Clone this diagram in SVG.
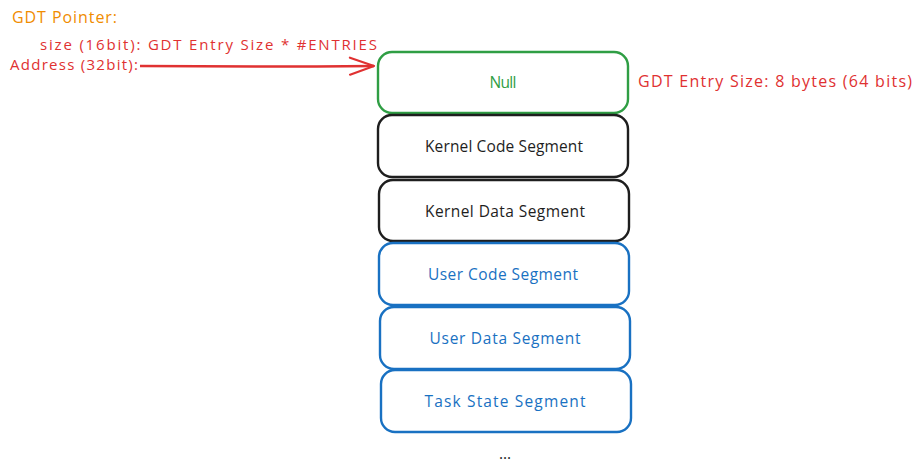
<svg xmlns="http://www.w3.org/2000/svg" width="922" height="474" viewBox="0 0 922 474">
<defs>
<style>
text{font-family:"Open Sans","Liberation Sans",sans-serif;font-size:16px}
.box{fill:#ffffff;stroke-width:2.4}
.lbl{text-anchor:middle;font-size:15.5px}
.g{stroke:#2f9e44}.k{stroke:#1e1e1e}.b{stroke:#1971c2}
.tg{fill:#2f9e44}.tk{fill:#1e1e1e}.tb{fill:#1971c2}
.red{fill:#e03131}.org{fill:#f08c00}
.sm{font-size:15px}
</style>
<marker id="ah" viewBox="0 0 28 20" refX="26" refY="10" markerWidth="28" markerHeight="20" markerUnits="userSpaceOnUse" orient="auto">
<path d="M2 1.5 L26 10 L2 18.5" fill="none" stroke="#e03131" stroke-width="2.2" stroke-linecap="round" stroke-linejoin="round"/>
</marker>
</defs>
<rect width="922" height="474" fill="#ffffff"/>
<g id="labels">
<text x="12" y="23" class="org" textLength="105" lengthAdjust="spacing">GDT Pointer:</text>
<text x="40" y="50" class="red sm" textLength="337" lengthAdjust="spacing">size (16bit): GDT Entry Size * #ENTRIES</text>
<text x="10" y="70" class="red sm" textLength="128" lengthAdjust="spacing">Address (32bit):</text>
<text x="638" y="87" class="red" textLength="274" lengthAdjust="spacing">GDT Entry Size: 8 bytes (64 bits)</text>
<text x="505" y="459" class="lbl tk" font-size="17">...</text>
</g>
<g id="connectors">
<path d="M140 66 Q260 67 374 66" fill="none" stroke="#e03131" stroke-width="2.4" marker-end="url(#ah)"/>
</g>
<g id="null"><rect class="box g" x="378" y="52" width="250" height="61" rx="14"/><text class="lbl tg" x="503" y="88" textLength="27" lengthAdjust="spacing">Null</text></g>
<g id="kcode"><rect class="box k" x="378" y="115" width="250" height="62" rx="14"/><text class="lbl tk" x="504" y="152" textLength="158" lengthAdjust="spacing">Kernel Code Segment</text></g>
<g id="kdata"><rect class="box k" x="379" y="180" width="250" height="61" rx="14"/><text class="lbl tk" x="505" y="217" textLength="160" lengthAdjust="spacing">Kernel Data Segment</text></g>
<g id="ucode"><rect class="box b" x="379" y="243" width="250" height="62" rx="14"/><text class="lbl tb" x="503" y="280" textLength="150" lengthAdjust="spacing">User Code Segment</text></g>
<g id="udata"><rect class="box b" x="380" y="307" width="250" height="62" rx="14"/><text class="lbl tb" x="505" y="344" textLength="151" lengthAdjust="spacing">User Data Segment</text></g>
<g id="tss"><rect class="box b" x="381" y="370" width="250" height="62" rx="14"/><text class="lbl tb" x="505" y="407" textLength="161" lengthAdjust="spacing">Task State Segment</text></g>
</svg>
